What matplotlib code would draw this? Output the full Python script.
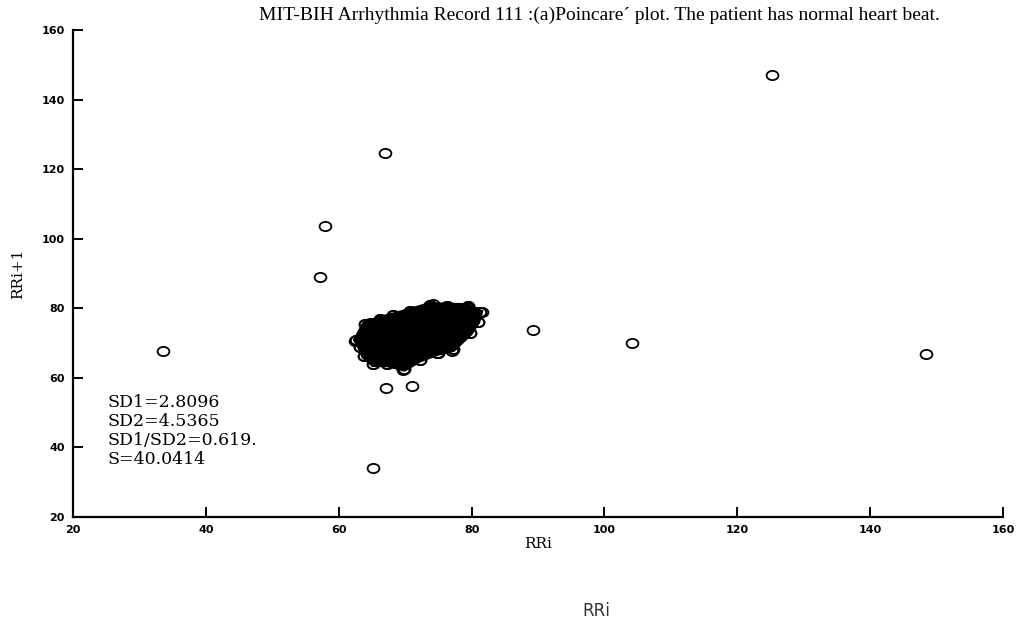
import numpy as np
import matplotlib.pyplot as plt
from matplotlib.path import Path
from matplotlib.transforms import Affine2D

# isolated beats (RR interval i vs i+1)
rr_i = [125.2, 67.0, 57.9, 57.2, 33.5, 89.2, 104.1, 148.4, 67.1, 71.0, 65.2,
        62.5, 64.7, 66.4, 69.7, 74.2, 79.5, 81.6, 77.0, 74.8]
rr_next = [147.0, 124.6, 103.6, 89.0, 67.7, 73.8, 70.0, 66.8, 57.1, 57.6, 34.1,
           70.6, 75.7, 76.6, 62.2, 81.2, 80.3, 78.9, 67.7, 67.1]

# edge beats of the dense normal-beat cluster, going round it
core_rr_i = [62.6, 63.9, 66.2, 68.2, 70.7, 73.7, 76.3, 79.5, 81.3, 80.9,
             79.8, 77.2, 75.0, 72.2, 69.9, 67.2, 65.2, 63.8, 63.2]
core_rr_next = [70.9, 75.5, 77.0, 78.0, 79.3, 81.0, 80.8, 80.7, 78.9, 76.1,
                72.9, 68.2, 67.2, 65.2, 62.6, 63.9, 63.9, 66.2, 68.9]

stats = ['SD1=2.8096', 'SD2=4.5365', 'SD1/SD2=0.619.', 'S=40.0414']
ticks = [20, 40, 60, 80, 100, 120, 140, 160]

# slightly flattened open circle
oval = Path.unit_circle().transformed(Affine2D().scale(1.0, 0.78))

fig = plt.figure(figsize=(10.34, 6.25), dpi=100)
ax = fig.add_axes([0.0706, 0.1728, 0.8994, 0.7792])

# solid core formed by the overlapping markers
ax.fill(core_rr_i, core_rr_next, color='black', lw=4, zorder=2)
ax.plot(core_rr_i, core_rr_next, ls='none', marker=oval, mfc='white', mec='black',
        ms=8.5, mew=1.3, zorder=1)
ax.plot(core_rr_i, core_rr_next, ls='none', marker=oval, mfc='none', mec='black',
        ms=8.5, mew=1.3, zorder=3)
ax.plot(rr_i, rr_next, ls='none', marker=oval, mfc='none', mec='black',
        ms=8.5, mew=1.3, zorder=3)

ax.set_xlim(20, 160)
ax.set_ylim(20, 160)
ax.set_xticks(ticks)
ax.set_yticks(ticks)
for s in ['top', 'right']:
    ax.spines[s].set_visible(False)
for s in ['left', 'bottom']:
    ax.spines[s].set_linewidth(1.6)
ax.tick_params(direction='in', length=7, width=1.4, labelsize=8, pad=6)
for lab in ax.get_xticklabels() + ax.get_yticklabels():
    lab.set_fontweight('bold')

ax.set_xlabel('RRi', family='DejaVu Serif', fontsize=11, labelpad=1)
ax.set_ylabel('RRi+1', family='DejaVu Serif', fontsize=11, labelpad=12)

for k, line in enumerate(stats):
    ax.text(0.0366, 0.235 - k * 0.039, line, transform=ax.transAxes,
            family='DejaVu Serif', fontsize=12.5, va='center', ha='left')

fig.text(0.58, 0.975, "MIT-BIH Arrhythmia Record 111 :(a)Poincare\u00b4 plot. The patient has normal heart beat.",
         family='Liberation Serif', fontsize=14, ha='center', va='center')
fig.text(0.577, 0.022, 'RRi', family='DejaVu Sans', fontsize=12, color='#333333',
         ha='center', va='center')

fig.savefig('out.png', dpi=100)
